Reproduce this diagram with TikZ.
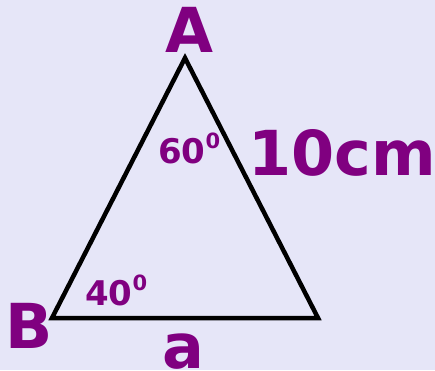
\documentclass[tikz,border=0pt]{standalone}
\usepackage{fontspec}
\setmainfont{DejaVu Sans}
\definecolor{bgc}{HTML}{E6E6F8}
\definecolor{lbl}{HTML}{800080}
\begin{document}
\begin{tikzpicture}[x=1pt,y=1pt,
  big/.style={text=lbl,font=\fontsize{62}{62}\selectfont\bfseries,inner sep=0pt,anchor=base},
  ang/.style={text=lbl,font=\fontsize{34}{34}\selectfont\bfseries,inner sep=0pt,anchor=base west},
  edge/.style={line width=4.5pt,black}]
\fill[bgc] (0,0) rectangle (435,370);
\useasboundingbox (0,0) rectangle (435,370);
\coordinate (A) at (185,312);
\coordinate (B) at (52,52);
\coordinate (C) at (318,52);
\draw[edge] (A) -- (B) -- (C) -- cycle;
\node[big] (lA) at (189.5,317) {A};
\node[big] (lB) at (29,22) {B};
\node[big] (la) at (183.5,2) {a};
\node[big] (lside) at (342,195) {10cm};
\node[ang] (a60) at (158,207) {60\raisebox{0.44em}{\fontsize{21}{21}\selectfont 0}};
\node[ang] (a40) at (85,65) {40\raisebox{0.44em}{\fontsize{21}{21}\selectfont 0}};
\end{tikzpicture}
\end{document}
